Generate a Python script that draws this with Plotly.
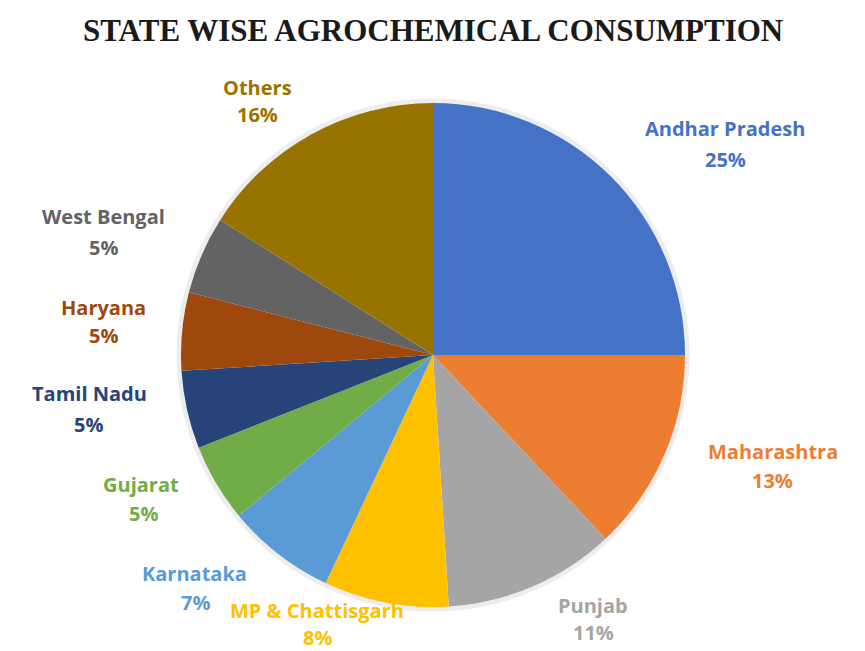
import plotly.graph_objects as go

# ---- data ----
states = ["Andhar Pradesh", "Maharashtra", "Punjab", "MP & Chattisgarh", "Karnataka",
          "Gujarat", "Tamil Nadu", "Haryana", "West Bengal", "Others"]
shares = [25, 13, 11, 8, 7, 5, 5, 5, 5, 16]
title_text = "STATE WISE AGROCHEMICAL CONSUMPTION"

# ---- styles / layout constants ----
colors = ["#4472C4", "#ED7D31", "#A5A5A5", "#FFC000", "#5B9BD5",
          "#70AD47", "#264478", "#9E480E", "#636363", "#997300"]
OFF = 8                      # page body margin in the browser
W, H = 865 - 2 * OFF, 651 - OFF
CX, CY, R = 433, 355, 252    # in window pixels
# label positions in window pixels: (name_x, name_y, pct_x, pct_y)
label_pos = [
    (725, 129, 725, 159),
    (773, 451, 772, 480),
    (593, 605, 593, 632),
    (317, 610, 317, 637),
    (194, 573, 195, 602),
    (141, 485, 143, 513),
    (89, 393, 88, 424),
    (103, 307, 103, 335),
    (103, 217, 103, 247),
    (258, 87, 258, 115),
]


def px(x):
    return (x - OFF) / W


def py(y):
    return 1 - (y - OFF) / H


fig = go.Figure(go.Pie(
    labels=states, values=shares, sort=False, direction="clockwise", rotation=0,
    marker=dict(colors=colors, line=dict(width=0)),
    textinfo="none", hoverinfo="label+percent", showlegend=False,
    domain=dict(x=[px(CX - R), px(CX + R)], y=[py(CY + R), py(CY - R)]),
))

total = sum(shares)
ann = []
for name, val, col, (nx, ny, qx, qy) in zip(states, shares, colors, label_pos):
    fnt = dict(family="Open Sans", size=20, color=col, weight="bold")
    ann.append(dict(x=px(nx), y=py(ny), xref="paper", yref="paper", text=name,
                    showarrow=False, font=fnt, xanchor="center", yanchor="middle"))
    ann.append(dict(x=px(qx), y=py(qy), xref="paper", yref="paper",
                    text=f"{val / total * 100:.0f}%",
                    showarrow=False, font=fnt, xanchor="center", yanchor="middle"))

ann.append(dict(x=px(433), y=py(30), xref="paper", yref="paper", text=title_text,
                showarrow=False, xanchor="center", yanchor="middle",
                font=dict(family="Liberation Serif", size=31, color="#1a1a1a", weight="bold")))

fig.update_layout(
    width=W, height=H, margin=dict(l=0, r=0, t=0, b=0),
    paper_bgcolor="white", plot_bgcolor="white",
    annotations=ann,
    shapes=[dict(type="circle", xref="paper", yref="paper",
                 x0=px(CX - R - 2), x1=px(CX + R + 2),
                 y0=py(CY + R + 2), y1=py(CY - R - 2),
                 line=dict(color="rgba(0,0,0,0.07)", width=5), layer="below")],
)

fig.write_html("out.html")
